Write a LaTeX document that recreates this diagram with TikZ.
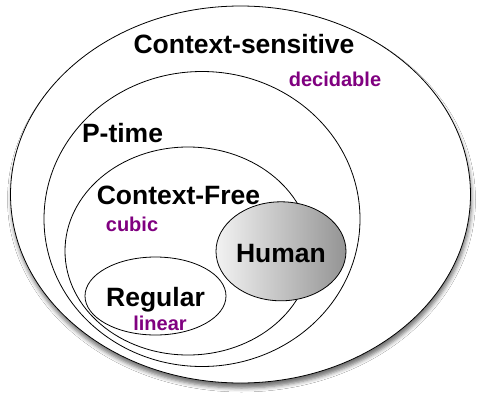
\documentclass[tikz,border=0pt]{standalone}
\usepackage{fontspec}
\setmainfont{Liberation Sans}
\usepackage{tikz}
\usetikzlibrary{shapes.geometric,shadows.blur}
\definecolor{costpurple}{RGB}{128,0,128}

\begin{document}
\begin{tikzpicture}[
  x=1pt, y=-1pt,
  set/.style={draw, ellipse, line width=0.8pt, inner sep=0pt, fill=white},
  lang/.style={font=\fontsize{26.5}{30}\selectfont\bfseries, anchor=base, inner sep=0pt},
  cost/.style={font=\fontsize{20}{24}\selectfont\bfseries, text=costpurple, anchor=base, inner sep=0pt}
]
\fill[white] (0,0) rectangle (480,400);
\useasboundingbox (0,0) rectangle (480,400);
\node[set, minimum width=460pt, minimum height=377pt,
      blur shadow={shadow xshift=1pt, shadow yshift=-5pt, shadow blur radius=4pt, shadow opacity=55}]
      (cs) at (240.5,194.5) {};
\node[set, minimum width=316pt, minimum height=295pt] (ptime) at (202,219) {};
\node[set, minimum width=246pt, minimum height=208pt] (cf) at (188,251) {};
\node[set, minimum width=141pt, minimum height=78pt] (reg) at (155.5,296) {};
\node[set, minimum width=130pt, minimum height=99pt, left color=white!95!black, right color=black!42] (human) at (281,251.3) {};
\node[lang] (csname) at (244,53) {Context-sensitive};
\node[cost] (cscost) at (335,86) {decidable};
\node[lang] (ptname) at (122.5,142) {P-time};
\node[lang] (cfname) at (178.5,204) {Context-Free};
\node[cost] (cfcost) at (132,231) {cubic};
\node[lang] (humanname) at (281,262) {Human};
\node[lang] (regname) at (155.5,306) {Regular};
\node[cost] (regcost) at (160,330) {linear};
\end{tikzpicture}
\end{document}
